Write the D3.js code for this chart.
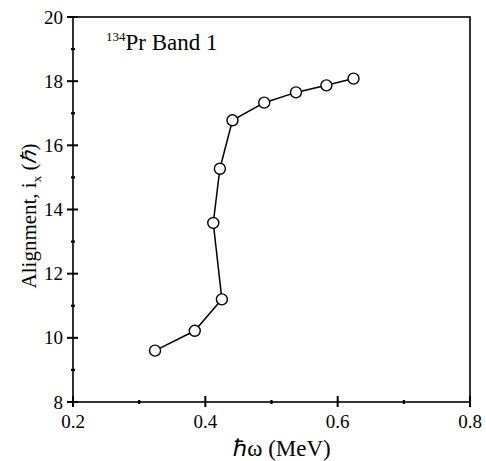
<!DOCTYPE html>
<html>
<head>
<meta charset="utf-8">
<script src="https://cdn.jsdelivr.net/npm/d3@7"></script>
<style>
  body { margin: 0; background: #fff; }
</style>
</head>
<body>
<div id="chart"></div>
<script>
// data
var omega = [0.324, 0.384, 0.425, 0.412, 0.422, 0.441, 0.489, 0.537, 0.583, 0.624];
var align = [9.6, 10.22, 11.2, 13.58, 15.27, 16.78, 17.33, 17.65, 17.87, 18.08];
var xTicks = [0.2, 0.4, 0.6, 0.8];
var xMinor = [0.3, 0.5, 0.7];
var yTicks = [8, 10, 12, 14, 16, 18, 20];
var yMinor = [9, 11, 13, 15, 17, 19];

var margin = {top: 17, right: 16, bottom: 59, left: 73},
    width = 486 - margin.left - margin.right,
    height = 461 - margin.top - margin.bottom;

var svg = d3.select("#chart")
  .append("svg")
    .attr("width", 486)
    .attr("height", 461)
    .attr("font-family", "'Liberation Serif', 'Times New Roman', serif")
  .append("g")
    .attr("transform", "translate(" + margin.left + "," + margin.top + ")");

var x = d3.scaleLinear().domain([0.2, 0.8]).range([0, width]);
var y = d3.scaleLinear().domain([8, 20]).range([height, 0]);

// frame
svg.append("rect")
  .attr("width", width)
  .attr("height", height)
  .attr("fill", "none")
  .attr("stroke", "#000")
  .attr("stroke-width", 1.6);

// y ticks (cross the axis)
svg.selectAll(".ytick").data(yTicks).enter().append("line")
  .attr("x1", -6).attr("x2", 5)
  .attr("y1", function(d) { return y(d); }).attr("y2", function(d) { return y(d); })
  .attr("stroke", "#000").attr("stroke-width", 2);
svg.selectAll(".yminor").data(yMinor).enter().append("line")
  .attr("x1", -2).attr("x2", 2)
  .attr("y1", function(d) { return y(d); }).attr("y2", function(d) { return y(d); })
  .attr("stroke", "#000").attr("stroke-width", 2.2);
svg.selectAll(".ylab").data(yTicks).enter().append("text")
  .attr("x", -10)
  .attr("y", function(d) { return y(d); })
  .attr("dy", "0.35em")
  .attr("text-anchor", "end")
  .attr("font-size", 19)
  .text(function(d) { return d; });

// x ticks
svg.selectAll(".xtick").data(xTicks).enter().append("line")
  .attr("x1", function(d) { return x(d); }).attr("x2", function(d) { return x(d); })
  .attr("y1", height - 6).attr("y2", height + 5)
  .attr("stroke", "#000").attr("stroke-width", 2);
svg.selectAll(".xminor").data(xMinor).enter().append("line")
  .attr("x1", function(d) { return x(d); }).attr("x2", function(d) { return x(d); })
  .attr("y1", height - 2).attr("y2", height + 2)
  .attr("stroke", "#000").attr("stroke-width", 2.2);
svg.selectAll(".xlab").data(xTicks).enter().append("text")
  .attr("x", function(d) { return x(d); })
  .attr("y", height + 26)
  .attr("text-anchor", "middle")
  .attr("font-size", 19)
  .text(function(d) { return d3.format(".1f")(d); });

// axis titles
svg.append("text")
  .attr("x", 209)
  .attr("y", height + 54)
  .attr("text-anchor", "middle")
  .attr("font-size", 23)
  .text("\u210Fω (MeV)");

var yt = svg.append("text")
  .attr("transform", "translate(-37," + (216 - margin.top) + ") rotate(-90)")
  .attr("text-anchor", "middle")
  .attr("font-size", 21);
yt.append("tspan").text("Alignment, i");
yt.append("tspan").attr("dy", 5).attr("font-size", 13).text("x");
yt.append("tspan").attr("dy", -5).text(" (");
yt.append("tspan").attr("font-style", "italic").text("\u210F");
yt.append("tspan").text(")");

// band label
var lab = svg.append("text")
  .attr("x", 33)
  .attr("y", 33)
  .attr("font-size", 23);
lab.append("tspan").attr("dy", -9).attr("font-size", 13).text("134");
lab.append("tspan").attr("dy", 9).text("Pr Band 1");

// line + points
var pts = omega.map(function(d, i) { return [d, align[i]]; });
svg.append("path")
  .datum(pts)
  .attr("fill", "none")
  .attr("stroke", "#000")
  .attr("stroke-width", 1.5)
  .attr("d", d3.line().x(function(d) { return x(d[0]); }).y(function(d) { return y(d[1]); }));

svg.selectAll("circle").data(pts).enter().append("circle")
  .attr("cx", function(d) { return x(d[0]); })
  .attr("cy", function(d) { return y(d[1]); })
  .attr("r", 5.5)
  .attr("fill", "#fff")
  .attr("stroke", "#000")
  .attr("stroke-width", 1.4);
</script>
</body>
</html>
